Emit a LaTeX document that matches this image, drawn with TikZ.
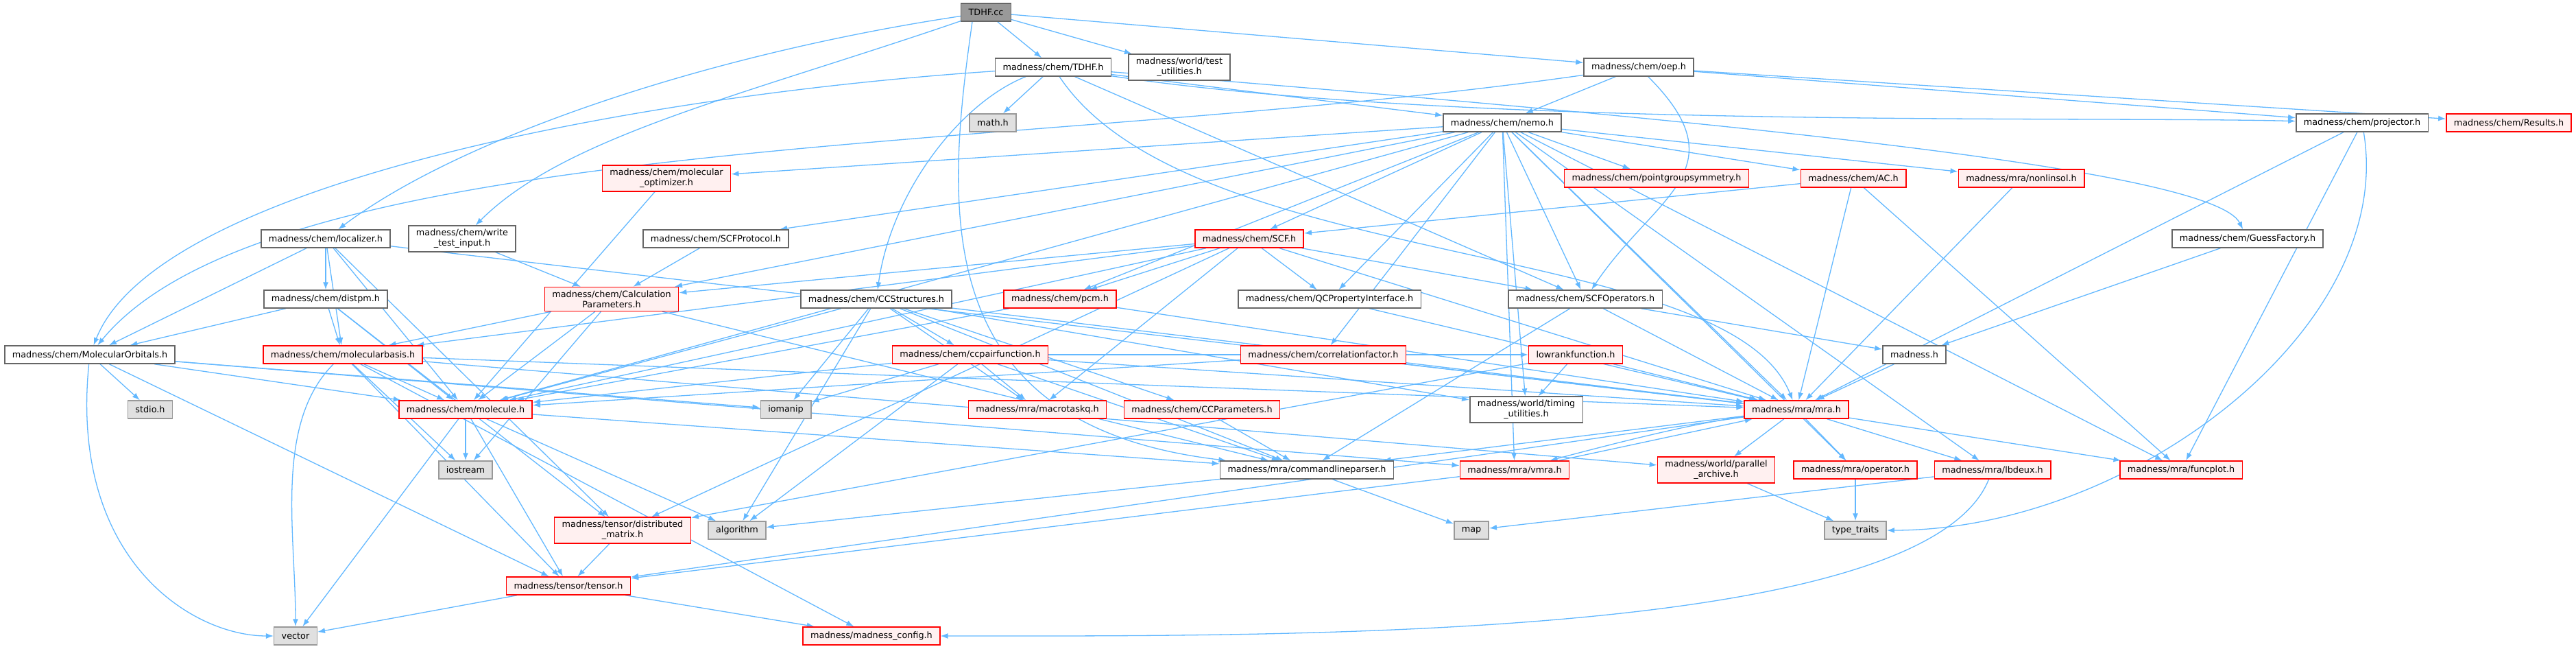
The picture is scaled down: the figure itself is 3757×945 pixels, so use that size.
\documentclass[tikz,border=0pt]{standalone}
\usepackage{fontspec}
\setmainfont{DejaVu Sans}
\usepackage{xcolor}
\usepackage{tikz}
\usetikzlibrary{arrows.meta}

\definecolor{edgeblue}{HTML}{63B8FF}
\definecolor{redfill}{HTML}{FFF0F0}
\definecolor{sysfill}{HTML}{E0E0E0}
\pgfdeclarelayer{bg}
\pgfsetlayers{bg,main}

\begin{document}
\begin{tikzpicture}[
x=1pt,y=1pt,
font=\fontsize{12.8}{15}\selectfont,
box/.style={draw=black!60,fill=white,line width=1.5pt,align=center,inner xsep=11pt,inner ysep=5pt,minimum height=26pt},
rbox/.style={box,draw=red,fill=redfill},
sbox/.style={box,draw=black!40,fill=sysfill},
root/.style={box,draw=black!60,fill=black!40},
dep/.style={-{Latex[length=11pt,width=8pt]},line width=1.3pt,edgeblue}]
\useasboundingbox (0,0) rectangle (3757,-945);
\node[root] (tdhfcc) at (1438,-18) {TDHF.cc};
\node[box] (tdhfh) at (1536,-98) {madness/chem/TDHF.h};
\node[box] (testutil) at (1720,-98) {madness/world/test\\\_utilities.h};
\node[box] (oep) at (2390,-98) {madness/chem/oep.h};
\node[sbox] (mathh) at (1448,-179) {math.h};
\node[box] (nemo) at (2191,-179) {madness/chem/nemo.h};
\node[box] (projector) at (3445,-179) {madness/chem/projector.h};
\node[rbox] (results) at (3659,-179) {madness/chem/Results.h};
\node[rbox] (molopt) at (972,-260) {madness/chem/molecular\\\_optimizer.h};
\node[rbox] (pgs) at (2416,-260) {madness/chem/pointgroupsymmetry.h};
\node[rbox] (ac) at (2703,-260) {madness/chem/AC.h};
\node[rbox] (nonlinsol) at (2948,-260) {madness/mra/nonlinsol.h};
\node[box] (localizer) at (475,-348) {madness/chem/localizer.h};
\node[box] (writetest) at (674,-348) {madness/chem/write\\\_test\_input.h};
\node[box] (scfprot) at (1044,-348) {madness/chem/SCFProtocol.h};
\node[rbox] (scf) at (1822,-348) {madness/chem/SCF.h};
\node[box] (guess) at (3278,-348) {madness/chem/GuessFactory.h};
\node[box] (distpm) at (475,-436) {madness/chem/distpm.h};
\node[rbox] (calcpar) at (892,-436) {madness/chem/Calculation\\Parameters.h};
\node[box] (ccstruct) at (1278,-436) {madness/chem/CCStructures.h};
\node[rbox] (pcm) at (1546,-436) {madness/chem/pcm.h};
\node[box] (qcprop) at (1939,-436) {madness/chem/QCPropertyInterface.h};
\node[box] (scfop) at (2312,-436) {madness/chem/SCFOperators.h};
\node[box] (molorb) at (131,-517) {madness/chem/MolecularOrbitals.h};
\node[rbox] (molbasis) at (500,-517) {madness/chem/molecularbasis.h};
\node[rbox] (ccpair) at (1415,-517) {madness/chem/ccpairfunction.h};
\node[rbox] (corrfac) at (1930,-517) {madness/chem/correlationfactor.h};
\node[rbox] (lowrank) at (2298,-517) {lowrankfunction.h};
\node[box] (madnessh) at (2792,-517) {madness.h};
\node[sbox] (stdioh) at (219,-597) {stdio.h};
\node[rbox] (molecule) at (679,-597) {madness/chem/molecule.h};
\node[sbox] (iomanip) at (1146,-597) {iomanip};
\node[rbox] (macrotask) at (1513,-597) {madness/mra/macrotaskq.h};
\node[rbox] (ccparam) at (1753,-597) {madness/chem/CCParameters.h};
\node[box] (timing) at (2226,-597) {madness/world/timing\\\_utilities.h};
\node[rbox] (mra) at (2620,-597) {madness/mra/mra.h};
\node[sbox] (iostream) at (679,-685) {iostream};
\node[box] (cmdline) at (1906,-685) {madness/mra/commandlineparser.h};
\node[rbox] (vmra) at (2209,-685) {madness/mra/vmra.h};
\node[rbox] (parchive) at (2503,-685) {madness/world/parallel\\\_archive.h};
\node[rbox] (oper) at (2706,-685) {madness/mra/operator.h};
\node[rbox] (lbdeux) at (2906,-685) {madness/mra/lbdeux.h};
\node[rbox] (funcplot) at (3181,-685) {madness/mra/funcplot.h};
\node[rbox] (distmat) at (908,-773) {madness/tensor/distributed\\\_matrix.h};
\node[sbox] (algorithm) at (1075,-773) {algorithm};
\node[sbox] (maph) at (2146,-773) {map};
\node[sbox] (typetraits) at (2706,-773) {type\_traits};
\node[rbox] (tensor) at (829,-854) {madness/tensor/tensor.h};
\node[sbox] (vector) at (431,-927) {vector};
\node[rbox] (config) at (1271,-927) {madness/madness\_config.h};
\begin{pgfonlayer}{bg}
\draw[dep] (tdhfcc)--(tdhfh); \draw[dep] (tdhfcc)--(testutil); \draw[dep] (tdhfcc)--(oep);
\draw[dep] (tdhfcc) .. controls +(-400,-60) and +(200,150) .. (localizer);
\draw[dep] (tdhfcc) .. controls +(-350,-120) and +(150,150) .. (writetest);
\draw[dep] ([xshift=-20pt]tdhfcc.south) .. controls (1380,-300) and (1350,-620) .. (cmdline);
\draw[dep] (tdhfh)--(mathh);
\draw[dep] (tdhfh) .. controls +(-600,-40) and +(100,250) .. (molorb);
\draw[dep] ([xshift=-40pt]tdhfh.south) .. controls (1400,-150) and (1300,-280) .. (ccstruct);
\draw[dep] (tdhfh)--(nemo);
\draw[dep] (tdhfh) .. controls +(600,-90) and +(-400,10) .. (projector);
\draw[dep] (tdhfh) .. controls +(1000,-80) and +(-50,100) .. (guess);
\draw[dep] (tdhfh)--(scfop);
\draw[dep] (tdhfh) .. controls +(200,-300) and +(-100,250) .. (mra);
\draw[dep] (oep)--(nemo); \draw[dep] (oep)--(projector); \draw[dep] (oep)--(results);
\draw[dep] (oep) .. controls (1500,-225) and (400,-190) .. (molorb);
\draw[dep] (oep) .. controls +(150,-150) and +(100,150) .. (scfop);
\draw[dep] (nemo)--(molopt); \draw[dep] (nemo)--(pgs); \draw[dep] (nemo)--(ac);
\draw[dep] (nemo)--(nonlinsol); \draw[dep] (nemo)--(scfprot); \draw[dep] (nemo)--(calcpar);
\draw[dep] (nemo)--(scf); \draw[dep] (nemo)--(pcm); \draw[dep] (nemo)--(qcprop);
\draw[dep] (nemo)--(scfop); \draw[dep] (nemo)--(corrfac); \draw[dep] (nemo)--(molecule);
\draw[dep] (nemo)--(mra); \draw[dep] (nemo)--(vmra); \draw[dep] (nemo)--(oper);
\draw[dep] (nemo)--(lbdeux); \draw[dep] (nemo)--(funcplot); \draw[dep] (nemo)--(timing);
\draw[dep] (ac)--(scf); \draw[dep] (ac)--(mra); \draw[dep] (ac)--(funcplot);
\draw[dep] (nonlinsol)--(mra);
\draw[dep] (projector)--(mra); \draw[dep] (projector)--(funcplot);
\draw[dep] (projector) .. controls +(50,-300) and +(400,0) .. (typetraits);
\draw[dep] (molopt)--(molecule);
\draw[dep] (localizer)--(distpm); \draw[dep] (localizer)--(molorb); \draw[dep] (localizer)--(molbasis);
\draw[dep] (localizer)--(molecule); \draw[dep] (localizer)--(distmat); \draw[dep] (localizer)--(mra);
\draw[dep] (writetest)--(calcpar); \draw[dep] (scfprot)--(calcpar);
\draw[dep] (scf)--(calcpar); \draw[dep] (scf)--(molbasis); \draw[dep] (scf)--(pcm);
\draw[dep] (scf)--(molecule); \draw[dep] (scf)--(qcprop); \draw[dep] (scf)--(scfop);
\draw[dep] (scf)--(mra); \draw[dep] (scf)--(distmat); \draw[dep] (scf)--(macrotask);
\draw[dep] (guess)--(madnessh);
\draw[dep] (distpm)--(molorb); \draw[dep] (distpm)--(molbasis); \draw[dep] (distpm)--(molecule);
\draw[dep] (distpm)--(distmat);
\draw[dep] (calcpar)--(molbasis); \draw[dep] (calcpar)--(molecule); \draw[dep] (calcpar)--(iostream);
\draw[dep] (calcpar)--(cmdline);
\draw[dep] (ccstruct)--(ccpair); \draw[dep] (ccstruct)--(iomanip); \draw[dep] (ccstruct)--(algorithm);
\draw[dep] (ccstruct)--(macrotask); \draw[dep] (ccstruct)--(ccparam); \draw[dep] (ccstruct)--(cmdline);
\draw[dep] (ccstruct)--(mra); \draw[dep] (ccstruct)--(timing); \draw[dep] (ccstruct)--(molecule);
\draw[dep] (pcm)--(molecule); \draw[dep] (pcm)--(mra);
\draw[dep] (qcprop)--(mra);
\draw[dep] (scfop)--(madnessh); \draw[dep] (scfop)--(cmdline); \draw[dep] (scfop)--(mra);
\draw[dep] (madnessh)--(mra);
\draw[dep] (molorb)--(stdioh); \draw[dep] (molorb)--(molecule); \draw[dep] (molorb)--(iomanip);
\draw[dep] (molorb) .. controls +(-30,-300) and +(-150,0) .. (vector);
\draw[dep] (molorb)--(tensor); \draw[dep] (molorb)--(vmra);
\draw[dep] (molbasis)--(molecule); \draw[dep] (molbasis)--(iostream);
\draw[dep] (molbasis) .. controls +(-100,-100) and +(0,150) .. (vector);
\draw[dep] (molbasis)--(tensor);
\draw[dep] (molbasis)--(config); \draw[dep] (molbasis)--(mra); \draw[dep] (molbasis)--(parchive);
\draw[dep] (molecule)--(iostream); \draw[dep] (molecule)--(vector); \draw[dep] (molecule)--(tensor);
\draw[dep] (molecule)--(algorithm); \draw[dep] (molecule)--(cmdline);
\draw[dep] (ccpair)--(iomanip); \draw[dep] (ccpair)--(macrotask); \draw[dep] (ccpair)--(algorithm);
\draw[dep] (ccpair)--(cmdline); \draw[dep] (ccpair)--(mra); \draw[dep] (ccpair)--(lowrank);
\draw[dep] (ccpair)--(molecule);
\draw[dep] (corrfac)--(mra); \draw[dep] (corrfac)--(molecule);
\draw[dep] (lowrank)--(timing); \draw[dep] (lowrank)--(mra); \draw[dep] (lowrank)--(distmat);
\draw[dep] (ccparam)--(cmdline);
\draw[dep] (mra) .. controls +(-150,-20) and +(150,40) .. (vmra);
\draw[dep] (mra)--(parchive); \draw[dep] (mra)--(oper);
\draw[dep] (mra)--(lbdeux); \draw[dep] (mra)--(funcplot); \draw[dep] (mra)--(tensor);
\draw[dep] (mra)--(cmdline);
\draw[dep] (vmra)--(mra); \draw[dep] (vmra)--(tensor);
\draw[dep] (parchive)--(typetraits); \draw[dep] (oper)--(typetraits);
\draw[dep] (lbdeux)--(maph);
\draw[dep] (lbdeux) .. controls +(-100,-250) and +(600,0) .. (config);
\draw[dep] (cmdline)--(algorithm); \draw[dep] (cmdline)--(maph);
\draw[dep] (distmat)--(tensor);
\draw[dep] (tensor)--(vector); \draw[dep] (tensor)--(config);
\end{pgfonlayer}
\end{tikzpicture}
\end{document}
